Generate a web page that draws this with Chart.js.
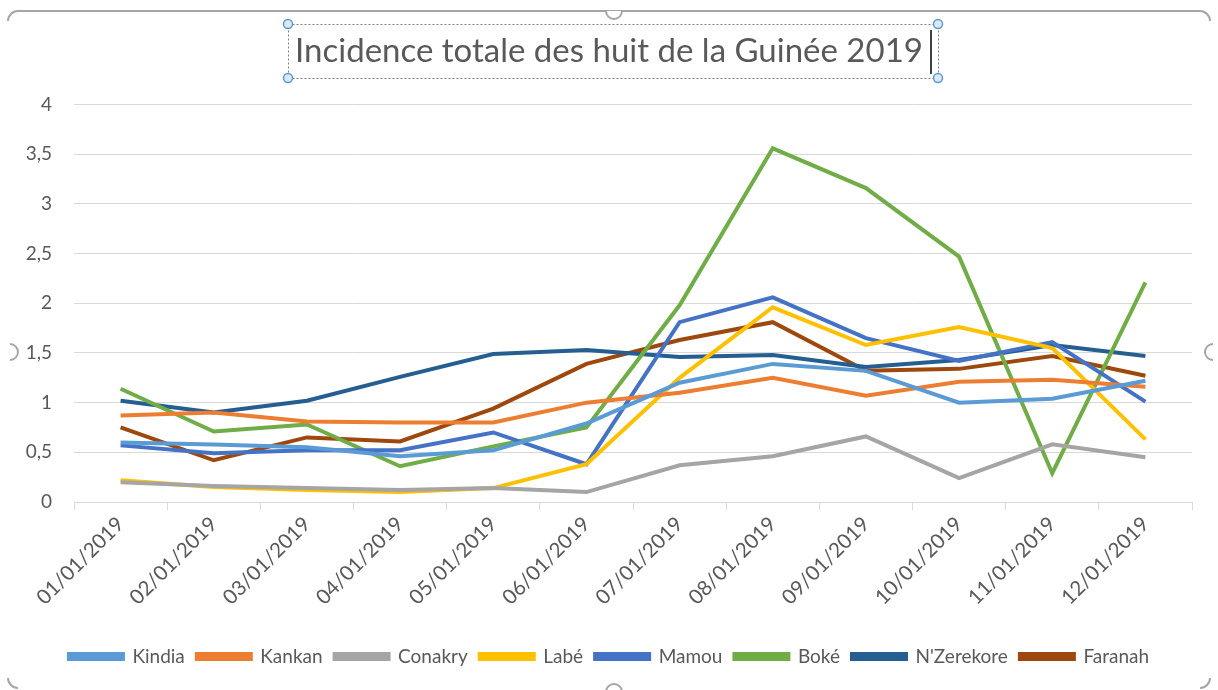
<!DOCTYPE html>
<html>
<head>
<meta charset="utf-8">
<script src="https://cdn.jsdelivr.net/npm/chart.js@4.4.1/dist/chart.umd.min.js"></script>
<style>
  html, body { margin: 0; padding: 0; background: #fff; }
  #wrap { width: 1218px; height: 690px; position: relative; }
</style>
</head>
<body>
<div id="wrap"><canvas id="myChart" width="1218" height="690"></canvas></div>
<script>
// données
const mois = ['01/01/2019', '02/01/2019', '03/01/2019', '04/01/2019', '05/01/2019', '06/01/2019',
              '07/01/2019', '08/01/2019', '09/01/2019', '10/01/2019', '11/01/2019', '12/01/2019']

const kindia    = [0.60, 0.58, 0.55, 0.46, 0.52, 0.79, 1.20, 1.39, 1.32, 1.00, 1.04, 1.22]
const kankan    = [0.87, 0.90, 0.81, 0.80, 0.80, 1.00, 1.10, 1.25, 1.07, 1.21, 1.23, 1.16]
const conakry   = [0.20, 0.16, 0.14, 0.12, 0.14, 0.10, 0.37, 0.46, 0.66, 0.24, 0.58, 0.45]
const labe      = [0.22, 0.15, 0.12, 0.10, 0.14, 0.38, 1.25, 1.96, 1.58, 1.76, 1.55, 0.63]
const mamou     = [0.57, 0.49, 0.52, 0.52, 0.70, 0.38, 1.81, 2.06, 1.65, 1.42, 1.61, 1.01]
const boke      = [1.14, 0.71, 0.78, 0.36, 0.56, 0.75, 1.98, 3.56, 3.16, 2.47, 0.29, 2.21]
const nzerekore = [1.02, 0.90, 1.02, 1.26, 1.49, 1.53, 1.46, 1.48, 1.36, 1.43, 1.58, 1.47]
const faranah   = [0.75, 0.42, 0.65, 0.61, 0.94, 1.39, 1.63, 1.81, 1.32, 1.34, 1.47, 1.27]

const yTicks = [0, 0.5, 1, 1.5, 2, 2.5, 3, 3.5, 4]

const police = "Lato, 'Open Sans', sans-serif"
const gris = '#595959'

const serie = (label, data, color) => ({
    label: label,
    data: data,
    borderColor: color,
    backgroundColor: color,
    borderWidth: 4,
    pointRadius: 0,
    tension: 0,
    fill: false
})

// cadre + sélection du titre (comme dans Excel)
const cadre = {
    id: 'cadre',
    afterDraw: (chart) => {
        const {ctx} = chart
        ctx.save()
        ctx.strokeStyle = '#a6a6a6'
        ctx.lineWidth = 2
        ctx.beginPath()
        ctx.moveTo(18, 11); ctx.lineTo(1200, 11)
        ctx.stroke()
        ctx.beginPath(); ctx.arc(18, 21, 10, Math.PI, 1.5 * Math.PI); ctx.stroke()
        ctx.beginPath(); ctx.arc(1200, 21, 10, 1.5 * Math.PI, 2 * Math.PI); ctx.stroke()
        ctx.fillStyle = '#fff'
        ctx.beginPath(); ctx.arc(614, 11, 8, 0, Math.PI); ctx.fill(); ctx.stroke()
        ctx.beginPath(); ctx.arc(10, 352, 8, -0.5 * Math.PI, 0.5 * Math.PI); ctx.stroke()
        ctx.beginPath(); ctx.arc(1213, 352, 8, 0.5 * Math.PI, 1.5 * Math.PI); ctx.stroke()
        ctx.beginPath(); ctx.arc(614, 692, 8, Math.PI, 2 * Math.PI); ctx.stroke()
        ctx.beginPath(); ctx.arc(18, 678, 10, 0.5 * Math.PI, Math.PI); ctx.stroke()
        ctx.beginPath(); ctx.arc(1200, 678, 10, 0, 0.5 * Math.PI); ctx.stroke()

        // boite pointillée du titre
        ctx.strokeStyle = '#7f7f7f'
        ctx.lineWidth = 1
        ctx.setLineDash([2, 2])
        ctx.strokeRect(288.5, 24.5, 650, 54)
        ctx.setLineDash([])
        ;[[288, 24], [938, 24], [288, 78], [938, 78]].forEach(p => {
            ctx.beginPath()
            ctx.arc(p[0], p[1], 4.5, 0, 2 * Math.PI)
            ctx.fillStyle = '#dbe8f5'
            ctx.fill()
            ctx.strokeStyle = '#5b9bd5'
            ctx.lineWidth = 1.5
            ctx.stroke()
        })
        ctx.strokeStyle = '#000'
        ctx.lineWidth = 1.5
        ctx.beginPath(); ctx.moveTo(931, 30); ctx.lineTo(931, 74); ctx.stroke()
        ctx.restore()
    }
}

const data = {
    labels: mois,
    datasets: [
        serie('Kindia', kindia, '#5B9BD5'),
        serie('Kankan', kankan, '#ED7D31'),
        serie('Conakry', conakry, '#A5A5A5'),
        serie('Labé', labe, '#FFC000'),
        serie('Mamou', mamou, '#4472C4'),
        serie('Boké', boke, '#70AD47'),
        serie("N'Zerekore", nzerekore, '#255E91'),
        serie('Faranah', faranah, '#9E480E')
    ]
}

const config = {
    type: 'line',
    data: data,
    plugins: [cadre],
    options: {
        responsive: false,
        animation: false,
        layout: { padding: { left: 26, right: 26, top: 0, bottom: 14 } },
        scales: {
            x: {
                offset: true,
                grid: {
                    display: true,
                    offset: true,
                    drawOnChartArea: false,
                    tickLength: 8,
                    color: '#d9d9d9'
                },
                border: { color: '#d9d9d9', width: 1 },
                ticks: {
                    color: gris,
                    font: { family: police, size: 20.5 },
                    minRotation: 45,
                    maxRotation: 45,
                    padding: 2,
                    autoSkip: false
                },
                afterFit: (scale) => { scale.height = 133 }
            },
            y: {
                min: 0,
                max: 4,
                afterBuildTicks: (scale) => { scale.ticks = yTicks.map(v => ({ value: v })) },
                grid: { color: '#d9d9d9', drawTicks: false },
                border: { display: false },
                ticks: {
                    color: gris,
                    font: { family: police, size: 19 },
                    padding: 22,
                    callback: (v) => v.toString().replace('.', ',')
                },
                afterFit: (scale) => { scale.width = 48 }
            }
        },
        plugins: {
            title: {
                display: true,
                text: 'Incidence totale des huit de la Guinée 2019',
                color: gris,
                font: { family: police, size: 33, weight: 'normal' },
                padding: { top: 32, bottom: 33 }
            },
            legend: {
                position: 'bottom',
                labels: {
                    color: gris,
                    font: { family: police, size: 19 },
                    boxWidth: 54,
                    boxHeight: 5,
                    padding: 12
                }
            },
            tooltip: { enabled: false }
        }
    }
}

const myChart = new Chart(document.querySelector('#myChart').getContext('2d'), config)
</script>
</body>
</html>
